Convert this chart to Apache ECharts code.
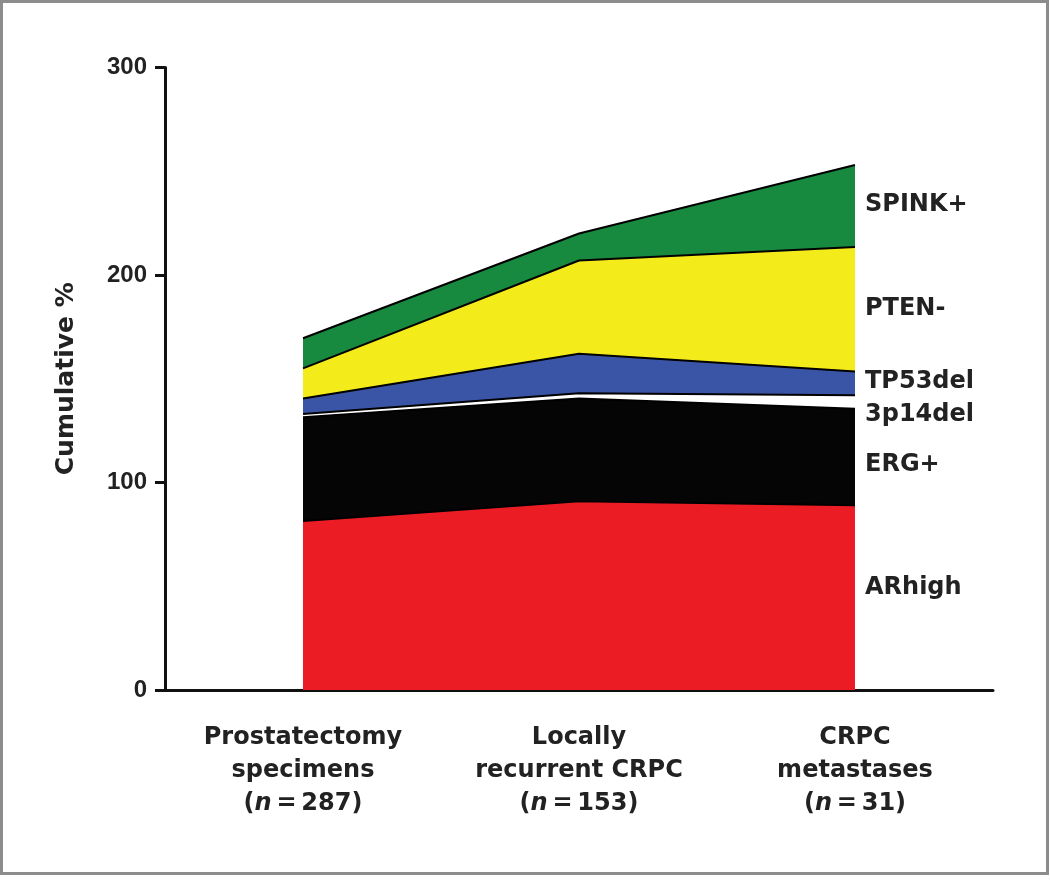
<!DOCTYPE html>
<html>
<head>
<meta charset="utf-8">
<script src="https://cdn.jsdelivr.net/npm/echarts@6/dist/echarts.min.js"></script>
<style>
html,body{margin:0;padding:0;background:#fff;}
#chart{width:1050px;height:882px;}
</style>
</head>
<body>
<div id="chart"></div>
<script>
// Categories (label lines) and sample counts
const categoryLines = [
  ['Prostatectomy', 'specimens'],
  ['Locally', 'recurrent CRPC'],
  ['CRPC', 'metastases']
];
const sampleCounts = [287, 153, 31];

// Series (stacked, bottom to top): increments in cumulative %
const seriesNames = ['ARhigh', 'ERG+', '3p14del', 'TP53del', 'PTEN-', 'SPINK+'];
const arHigh   = [81.5, 91, 89];
const ergPos   = [50, 49.5, 46.5];
const del3p14  = [1.5, 2.5, 6.5];
const tp53del  = [7.5, 19, 11.5];
const ptenNeg  = [14.5, 45, 60];
const spinkPos = [14.5, 13, 39.5];

const yTicks = [0, 100, 200, 300];

const seriesValues = [arHigh, ergPos, del3p14, tp53del, ptenNeg, spinkPos];
const colors = ['#ec1c24', '#050505', '#ffffff', '#3a55a6', '#f3eb1a', '#178a3f'];
const labelOffsets = [82, 56, 19, 10, 62, 40];

const categories = categoryLines.map((l, i) => l.join('\n') + '\n(n = ' + sampleCounts[i] + ')');

const labelFont = 'DejaVu Sans';
const textColor = '#222';

const chart = echarts.init(document.getElementById('chart'), null, {renderer: 'canvas'});

const series = seriesNames.map((name, i) => ({
  name: name,
  type: 'line',
  stack: 'total',
  data: seriesValues[i],
  showSymbol: false,
  symbol: 'none',
  lineStyle: {color: '#000', width: 2},
  areaStyle: {color: colors[i], opacity: 1},
  itemStyle: {color: colors[i]},
  z: 2,
  endLabel: {
    show: true,
    formatter: name,
    distance: 10,
    offset: [0, labelOffsets[i]],
    fontFamily: labelFont,
    fontWeight: 'bold',
    fontSize: 24,
    color: textColor
  },
  labelLayout: {hideOverlap: false}
}));

chart.setOption({
  animation: false,
  backgroundColor: '#fff',
  grid: {left: 165, right: 57, top: 67.5, bottom: 192, containLabel: false},
  xAxis: {
    type: 'category',
    data: categories,
    boundaryGap: true,
    axisLine: {lineStyle: {color: '#111', width: 3}},
    axisTick: {alignWithLabel: true, length: 10, lineStyle: {color: '#111', width: 3}},
    axisLabel: {
      margin: 31,
      interval: 0,
      formatter: function (value, idx) {
        const lines = categoryLines[idx];
        return lines.join('\n') + '\n(' + '{i|n}\u2009=\u2009' + sampleCounts[idx] + ')';
      },
      fontFamily: labelFont,
      fontWeight: 'bold',
      fontSize: 24,
      lineHeight: 33,
      color: textColor,
      rich: {
        i: {fontFamily: labelFont, fontWeight: 'bold', fontStyle: 'italic', fontSize: 24, lineHeight: 33, color: textColor}
      }
    },
    splitLine: {show: false}
  },
  yAxis: {
    type: 'value',
    min: yTicks[0],
    max: yTicks[yTicks.length - 1],
    interval: yTicks[1] - yTicks[0],
    name: 'Cumulative %',
    nameLocation: 'middle',
    nameRotate: 90,
    nameGap: 86,
    nameTextStyle: {fontFamily: labelFont, fontWeight: 'bold', fontSize: 25, color: textColor},
    axisLine: {show: true, lineStyle: {color: '#111', width: 3}},
    axisTick: {show: true, length: 10, lineStyle: {color: '#111', width: 3}},
    axisLabel: {margin: 18, fontFamily: 'Liberation Sans', fontWeight: 'bold', fontSize: 24, color: textColor},
    splitLine: {show: false}
  },
  series: series,
  graphic: [{
    type: 'rect',
    shape: {x: 1.5, y: 1.5, width: 1046, height: 872},
    style: {fill: 'none', stroke: '#8c8c8c', lineWidth: 3},
    silent: true,
    z: 100
  }]
});
</script>
</body>
</html>
